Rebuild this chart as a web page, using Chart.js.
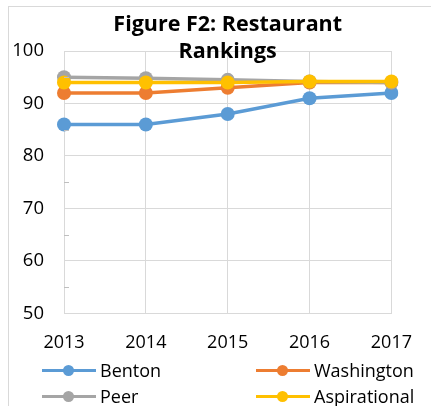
<!DOCTYPE html>
<html>
<head>
<meta charset="utf-8">
<script src="https://cdn.jsdelivr.net/npm/chart.js@4.4.0/dist/chart.umd.min.js"></script>
<style>
    body { margin: 0; background: #fff; }
    .wrap { position: relative; width: 431px; height: 406px; overflow: hidden; }
    .frame {
        position: absolute; left: 8px; top: 6px; width: 440px; height: 420px;
        border-left: 1px solid #d9d9d9; border-top: 1px solid #d9d9d9;
    }
    .legend { position: absolute; left: 0; top: 0; width: 431px; height: 406px; pointer-events: none;
        font-family: "Open Sans", sans-serif; font-size: 18px; color: #000; }
    .item { position: absolute; height: 26px; display: flex; align-items: center; }
    .icon { position: relative; width: 54px; height: 14px; margin-right: 4px; }
    .icon .ln { position: absolute; left: 0; right: 0; top: 5.5px; height: 3px; }
    .icon .dot { position: absolute; left: 21px; top: 1.5px; width: 11px; height: 11px; border-radius: 50%; }
</style>
</head>
<body>
<div class="wrap">
    <div class="frame"></div>
    <canvas id="chart" width="431" height="406"></canvas>
    <div class="legend" id="legend"></div>
</div>
<script>
// Datos
const years = ["2013", "2014", "2015", "2016", "2017"];
const benton = [86, 86, 88, 91, 92];
const washington = [92, 92, 93, 94, 94];
const peer = [95, 94.8, 94.5, 94.2, 94];
const aspirational = [94, 94, 94, 94.2, 94.2];
const seriesNames = ["Benton", "Washington", "Peer", "Aspirational"];
const seriesColors = ["#5b9bd5", "#ed7d31", "#a5a5a5", "#ffc000"];

const seriesData = [benton, washington, peer, aspirational];

// Marcas menores en el eje vertical
const minorTicks = {
    id: "minorTicks",
    afterDraw(chart) {
        const y = chart.scales.y;
        const ctx = chart.ctx;
        ctx.save();
        ctx.strokeStyle = "#bfbfbf";
        ctx.lineWidth = 1;
        for (let v = 55; v < 100; v += 10) {
            const py = Math.round(y.getPixelForValue(v)) + 0.5;
            ctx.beginPath();
            ctx.moveTo(chart.chartArea.left, py);
            ctx.lineTo(chart.chartArea.left + 5, py);
            ctx.stroke();
        }
        ctx.restore();
    },
};

const ctx = document.getElementById("chart").getContext("2d");
new Chart(ctx, {
    type: "line",
    data: {
        labels: years,
        datasets: seriesData.map((d, i) => ({
            label: seriesNames[i],
            data: d,
            borderColor: seriesColors[i],
            backgroundColor: seriesColors[i],
            pointBackgroundColor: seriesColors[i],
            pointBorderColor: seriesColors[i],
            borderWidth: 3.5,
            pointRadius: 7,
            pointBorderWidth: 0,
            order: 4 - i,
        })),
    },
    options: {
        responsive: false,
        animation: false,
        layout: { padding: { left: 8, top: 6, right: 17, bottom: 33 } },
        plugins: {
            legend: { display: false },
            tooltip: { enabled: false },
            title: {
                display: true,
                fullSize: false,
                text: ["Figure F2: Restaurant", "Rankings"],
                color: "#000",
                font: { family: "Open Sans", size: 21.5, weight: "bold", lineHeight: 1.256 },
                padding: { top: 5.5, bottom: -14.5 },
            },
        },
        scales: {
            x: {
                offset: false,
                grid: { color: "#d9d9d9", drawTicks: false },
                border: { color: "#d9d9d9" },
                ticks: { color: "#000", padding: 19, maxRotation: 0, font: { family: "Open Sans", size: 18 } },
            },
            y: {
                min: 50,
                max: 100,
                afterFit(scale) { scale.width = 56; },
                grid: { color: "#d9d9d9", drawTicks: false },
                border: { color: "#d9d9d9" },
                ticks: { stepSize: 10, color: "#000", padding: 20, font: { family: "Open Sans", size: 18.5 } },
            },
        },
    },
    plugins: [minorTicks],
});

// Leyenda en dos columnas
const legend = document.getElementById("legend");
const legendPos = [[42, 357], [256, 357], [42, 383], [256, 383]];
seriesNames.forEach((name, i) => {
    const item = document.createElement("div");
    item.className = "item";
    item.style.left = legendPos[i][0] + "px";
    item.style.top = legendPos[i][1] + "px";
    item.innerHTML =
        '<span class="icon"><span class="ln" style="background:' + seriesColors[i] + '"></span>' +
        '<span class="dot" style="background:' + seriesColors[i] + '"></span></span>' +
        '<span>' + name + '</span>';
    legend.appendChild(item);
});
</script>
</body>
</html>
